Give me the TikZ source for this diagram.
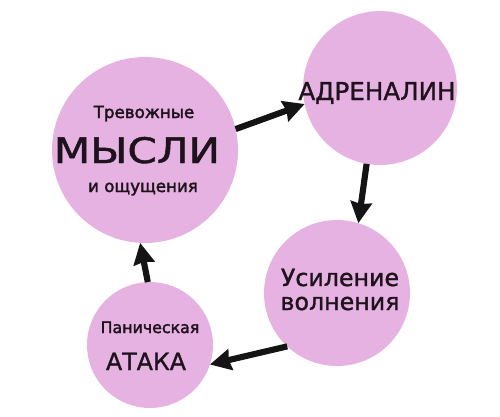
\documentclass[tikz,border=0pt]{standalone}
\usepackage{fontspec}
\setmainfont{DejaVu Sans}[FakeBold=1.2]
\newfontfamily\smallfont{DejaVu Sans}[FakeBold=2.2]
\usetikzlibrary{arrows.meta}
\definecolor{bubcol}{HTML}{E6B2E1}
\definecolor{txtcol}{HTML}{1E121C}
\newcommand{\fsz}[1]{\fontsize{#1}{#1}\selectfont}

\begin{document}
\begin{tikzpicture}[x=0.02cm, y=-0.02cm, >={Stealth[length=12pt, width=12pt, inset=1pt]},
  bub/.style={circle, fill=bubcol, inner sep=0pt, outer sep=0pt, minimum size=#1},
  lbl/.style={text=txtcol, inner sep=0pt, anchor=base},
  flow/.style={->, line width=3.5pt, black!92}]

\useasboundingbox (0,0) rectangle (500,416);

% circles
\node[bub=3.72cm] (mysli) at (145,150) {};
\node[bub=3.08cm] (adren) at (380,88) {};
\node[bub=2.92cm] (volnen) at (337,293) {};
\node[bub=2.52cm] (ataka) at (150,345) {};

% labels
\node[lbl, font=\smallfont\fsz{9.5}] (myslitop) at (144,118) {Тревожные};
\node[lbl, font=\fsz{20}] (myslimid) at (137,163) {\scalebox{1.2}[1]{МЫСЛИ}};
\node[lbl, font=\smallfont\fsz{9.5}] (myslibot) at (143,192) {и ощущения};
\node[lbl, font=\fsz{14}] (adrentxt) at (377,100) {АДРЕНАЛИН};
\node[lbl, font=\fsz{13.5}] (volnentop) at (340,286) {Усиление};
\node[lbl, font=\fsz{13.5}] (volnenbot) at (340,310) {волнения};
\node[lbl, font=\smallfont\fsz{9}] (atakatop) at (150,333) {Паническая};
\node[lbl, font=\fsz{13.5}] (atakabot) at (146,370) {АТАКА};

% cycle
\draw[flow] (mysli.13) -- (adren.192);
\draw[flow] (adren.260) -- (volnen.73);
\draw[flow] (volnen.227) -- (ataka.342);
\draw[flow] (ataka.92) -- (mysli.267);
\end{tikzpicture}
\end{document}
